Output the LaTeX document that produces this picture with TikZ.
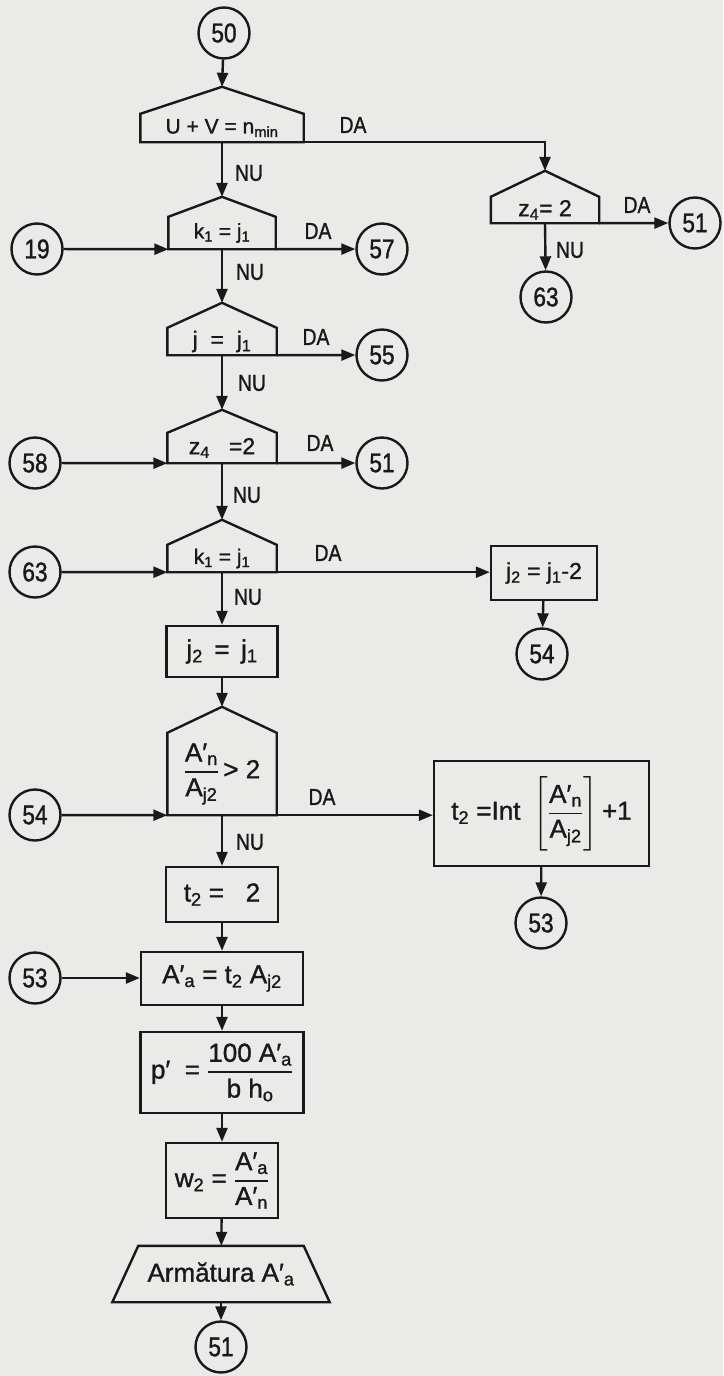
\documentclass[tikz,border=0pt]{standalone}
\usepackage{amsmath}
\usepackage{fontspec}
\setmainfont{Liberation Sans}[FakeBold=1.2]
\newfontfamily\narrowfont{Liberation Sans}[FakeStretch=0.84,FakeBold=1.2]
\usetikzlibrary{arrows.meta}
\definecolor{paper}{RGB}{234,234,232}
\definecolor{ink}{RGB}{25,25,25}
\newcommand\subs[1]{\textsubscript{#1}}
\newcommand\Ap[1]{A′\textsubscript{#1}}
\newcommand\fr[2]{$\genfrac{}{}{1.8pt}{0}{\hbox{#1}}{\hbox{#2}}$}
\newcommand\houseroof[2]{\draw[ln] (#1.south west) -- (#1.north west) -- ([yshift=#2pt]#1.north) coordinate (#1-apex) -- (#1.north east) -- (#1.south east) -- cycle;}
\newcommand\trapdraw[2]{\draw[ln] ([xshift=-#2pt]#1.south west) -- (#1.north west) -- (#1.north east) -- ([xshift=#2pt]#1.south east) -- cycle;}
\tikzset{
  ln/.style={line width=2.4pt, draw=ink, line join=miter},
  arr/.style={ln, -{Triangle[length=14pt,width=11pt]}},
  conn/.style={circle, ln, minimum size=51pt, inner sep=0pt, font=\narrowfont\fontsize{27}{30}\selectfont},
  box/.style={rectangle, ln, inner sep=0pt, font=\fontsize{26}{29}\selectfont},
  dec/.style={rectangle, inner sep=0pt, font=\fontsize{21}{25}\selectfont},
  decbig/.style={dec, font=\fontsize{23}{27}\selectfont},
  lab/.style={inner sep=0pt, font=\narrowfont\fontsize{23}{26}\selectfont},
}
\begin{document}
\begin{tikzpicture}[x=1pt,y=-1pt,color=ink]
\useasboundingbox (0,0) rectangle (723,1376);
\fill[paper] (0,0) rectangle (723,1376);

% connector circles
\node[conn] (c50) at (224,33) {50};
\node[conn] (c19) at (37,249) {19};
\node[conn] (c57) at (382,249) {57};
\node[conn] (c55) at (382,355) {55};
\node[conn] (c58) at (35,463) {58};
\node[conn] (c51a) at (382,463) {51};
\node[conn] (c63a) at (35,572) {63};
\node[conn] (c54a) at (35,815) {54};
\node[conn] (c53a) at (35,978) {53};
\node[conn] (c51b) at (221,1347) {51};
\node[conn] (c51r) at (695,223) {51};
\node[conn] (c63r) at (546,297) {63};
\node[conn] (c54r) at (542,654) {54};
\node[conn] (c53r) at (541,923) {53};

% decisions
\node[dec, minimum width=163pt, minimum height=28pt] (d1) at (222,128) {U + V = n\subs{min}};
\houseroof{d1}{27}
\node[dec, minimum width=107pt, minimum height=32pt] (d2) at (222,233) {k\subs1 = j\subs1};
\houseroof{d2}{20}
\node[decbig, minimum width=109pt, minimum height=27pt] (d3) at (222,341.5) {j \;=\; j\subs1};
\houseroof{d3}{25}
\node[decbig, minimum width=109pt, minimum height=30pt] (d4) at (222,448) {z\subs4 \;\;=2};
\houseroof{d4}{23}
\node[dec, minimum width=109pt, minimum height=27pt] (d5) at (222,558.5) {k\subs1 = j\subs1};
\houseroof{d5}{25}
\node[dec, font=\fontsize{26}{29}\selectfont, minimum width=109pt, minimum height=82pt] (d6) at (222,774) {\fr{\Ap n}{A\subs{j2}}\,> 2};
\houseroof{d6}{26}
\node[decbig, minimum width=108pt, minimum height=26pt] (dr) at (545,210) {z\subs4= 2};
\houseroof{dr}{26}

% process boxes
\node[box, minimum width=111pt, minimum height=51pt] (b1) at (222,651.5) {j\subs2 \,=\, j\subs1};
\node[box, font=\fontsize{23}{27}\selectfont, minimum width=106pt, minimum height=54pt] (b2) at (544,573) {j\subs2 = j\subs1-2};
\node[box, minimum width=215pt, minimum height=105pt] (b3) at (541.5,813.5)
  {t\subs2 =Int\enspace$\left[\genfrac{}{}{1.8pt}{0}{\hbox{\Ap n}}{\hbox{A\subs{j2}}}\right]$\,+1};
\node[box, minimum width=112pt, minimum height=55pt] (b4) at (222,894.5) {t\subs2 = \;\;2};
\node[box, minimum width=162pt, minimum height=53pt] (b5) at (222,978.5) {\Ap a = t\subs2 A\subs{j2}};
\node[box, minimum width=163pt, minimum height=81pt] (b6) at (222,1072.5) {p′ \;= \fr{100 \Ap a}{b h\subs o}};
\node[box, minimum width=112pt, minimum height=75pt] (b7) at (222,1180.5) {w\subs2 = \fr{\Ap a}{\Ap n}};
\node[dec, font=\fontsize{26}{29}\selectfont, minimum width=165pt, minimum height=56pt] (tr) at (221,1274) {Armătura \Ap a};
\trapdraw{tr}{26}

% labels
\node[lab] (l1) at (353,125) {DA};
\node[lab] (l2) at (249,173) {NU};
\node[lab] (l3) at (318,231) {DA};
\node[lab] (l4) at (250,272) {NU};
\node[lab] (l5) at (316,337) {DA};
\node[lab] (l6) at (252,383) {NU};
\node[lab] (l7) at (320,443) {DA};
\node[lab] (l8) at (247,495) {NU};
\node[lab] (l9) at (328,553) {DA};
\node[lab] (l10) at (248,597) {NU};
\node[lab] (l11) at (322,797) {DA};
\node[lab] (l12) at (250,842) {NU};
\node[lab] (l13) at (637,205) {DA};
\node[lab] (l14) at (570,250) {NU};

% connectors
\draw[arr] (c50) -- (d1-apex);
\draw[arr] (d1.south) -- (d2-apex);
\draw[arr] (d1.south east) -| (dr-apex);
\draw[arr] (c19) -- (d2.south west);
\draw[arr] (d2.south east) -- (c57);
\draw[arr] (d2.south) -- (d3-apex);
\draw[arr] (d3.south east) -- (c55);
\draw[arr] (d3.south) -- (d4-apex);
\draw[arr] (c58) -- (d4.south west);
\draw[arr] (d4.south east) -- (c51a);
\draw[arr] (d4.south) -- (d5-apex);
\draw[arr] (c63a) -- (d5.south west);
\draw[arr] (d5.south east) -- (d5.south east -| b2.west);
\draw[arr] (d5.south) -- (b1);
\draw[arr] (b1) -- (d6-apex);
\draw[arr] (c54a) -- (d6.south west);
\draw[arr] (d6.south east) -- (d6.south east -| b3.west);
\draw[arr] (d6.south) -- (b4);
\draw[arr] (b4) -- (b5);
\draw[arr] (c53a) -- (c53a -| b5.west);
\draw[arr] (b5) -- (b6);
\draw[arr] (b6) -- (b7);
\draw[arr] (b7) -- (tr);
\draw[arr] (tr) -- (c51b);
\draw[arr] (dr.south east) -- (c51r);
\draw[arr] (dr.south) -- (c63r);
\draw[arr] (b2) -- (c54r);
\draw[arr] (b3) -- (c53r);
\end{tikzpicture}
\end{document}
